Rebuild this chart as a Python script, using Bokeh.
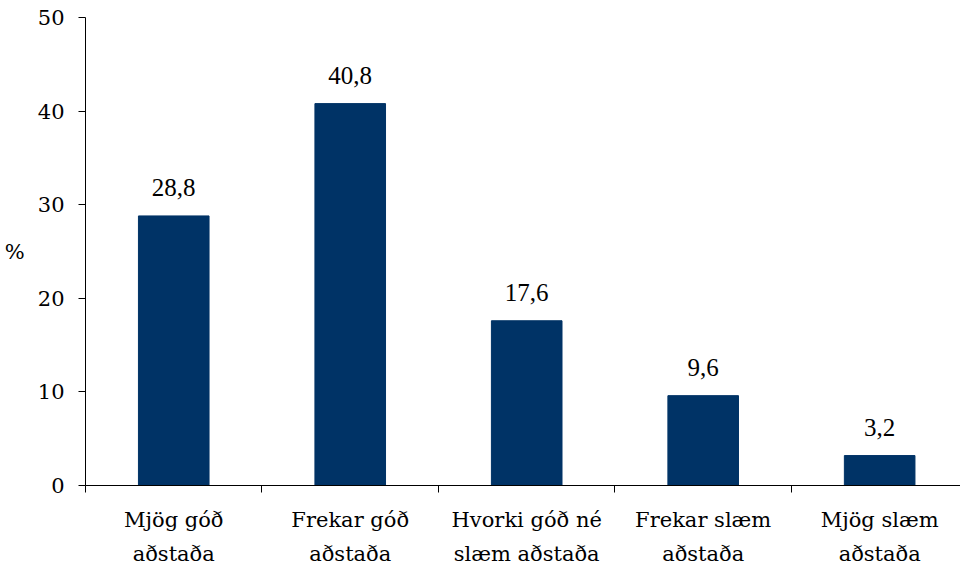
from bokeh.plotting import figure
from bokeh.models import ColumnDataSource, FixedTicker, Range1d, Label
from bokeh.embed import file_html
from bokeh.resources import INLINE

categories = ["Mjög góð\naðstaða", "Frekar góð\naðstaða", "Hvorki góð né\nslæm aðstaða",
              "Frekar slæm\naðstaða", "Mjög slæm\naðstaða"]
values = [28.8, 40.8, 17.6, 9.6, 3.2]
y_ticks = [0, 10, 20, 30, 40, 50]
y_title = "%"

AXIS_FONT = "DejaVu Serif"
LABEL_FONT = "Liberation Serif"
BAR = "#003366"

centers = [i + 0.5 for i in range(len(categories))]
labels = [f"{v:.1f}".replace(".", ",") for v in values]
src = ColumnDataSource(dict(x=centers, top=values))

p = figure(width=960, height=572, output_backend="svg", toolbar_location=None,
           x_range=Range1d(0, 4.958), y_range=Range1d(0, 50),
           min_border_left=85, min_border_top=17, min_border_bottom=87, min_border_right=0)
p.outline_line_color = None
p.xgrid.grid_line_color = None
p.ygrid.grid_line_color = None
p.background_fill_color = "white"
p.border_fill_color = "white"

p.vbar(x="x", top="top", bottom=0, width=0.40, color=BAR, source=src)

# value labels above bars
for xc, v, lab in zip(centers, values, labels):
    p.add_layout(Label(x=xc, y=v, text=lab, text_align="center", text_baseline="middle",
                       y_offset=28, text_font=LABEL_FONT, text_font_size="25px",
                       text_color="black"))

# x axis: category labels, ticks at category boundaries
xa = p.xaxis[0]
xa.ticker = FixedTicker(ticks=centers, minor_ticks=list(range(len(categories) + 1)))
xa.major_label_overrides = {c: lab for c, lab in zip(centers, categories)}
xa.major_tick_line_color = None
xa.minor_tick_out = 7
xa.minor_tick_in = 0
xa.minor_tick_line_color = "black"
xa.axis_line_color = "black"
xa.major_label_text_font = AXIS_FONT
xa.major_label_text_font_size = "21px"
xa.major_label_text_line_height = 1.45
xa.major_label_text_color = "black"
xa.major_label_standoff = 15

# y axis
ya = p.yaxis[0]
ya.ticker = FixedTicker(ticks=y_ticks)
ya.minor_tick_line_color = None
ya.major_tick_out = 7
ya.major_tick_in = 0
ya.major_tick_line_color = "black"
ya.axis_line_color = "black"
ya.major_label_text_font = AXIS_FONT
ya.major_label_text_font_size = "21px"
ya.major_label_text_color = "black"
ya.major_label_standoff = 14
ya.axis_label = y_title
ya.axis_label_orientation = "horizontal"
ya.axis_label_text_font = AXIS_FONT
ya.axis_label_text_font_size = "21px"
ya.axis_label_text_font_style = "normal"
ya.axis_label_text_color = "black"
ya.axis_label_standoff = 10

open("out.html", "w").write(file_html(p, INLINE))
